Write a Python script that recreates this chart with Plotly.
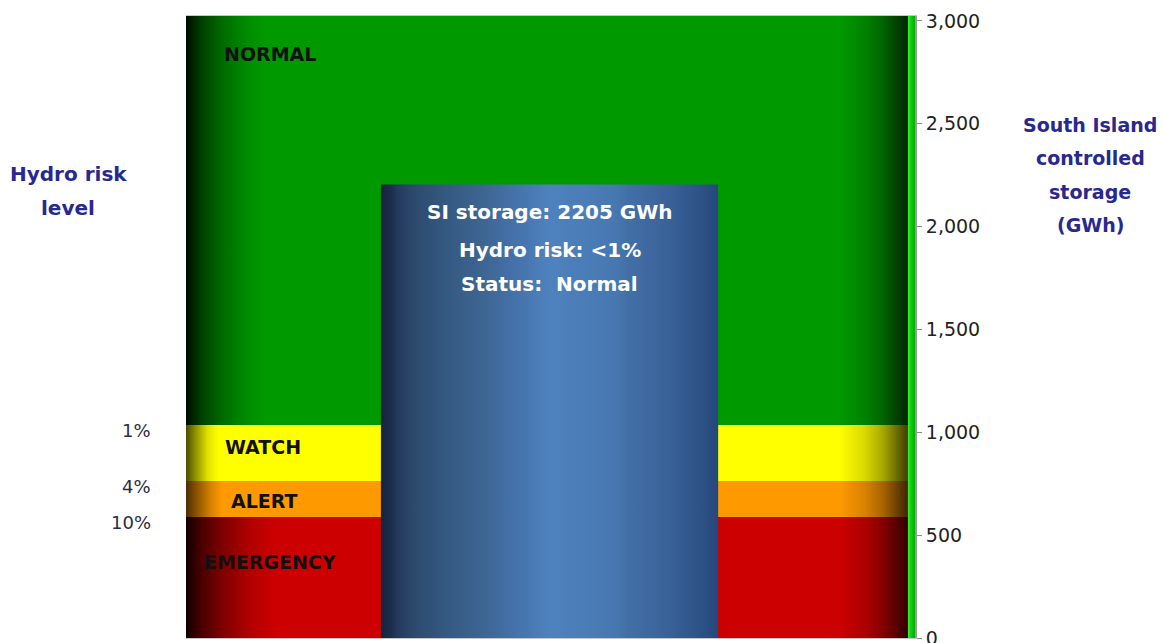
import plotly.graph_objects as go

# ---- data -------------------------------------------------------------
level_names = ["EMERGENCY", "ALERT", "WATCH", "NORMAL"]
level_floor_gwh = [0, 588, 763, 1035]          # lower bound of each risk band
risk_labels = ["10%", "4%", "1%"]               # risk at the ALERT/WATCH/NORMAL floors
risk_label_gwh = [588, 763, 1035]
si_storage = 2205                               # current South Island storage (GWh)
hydro_risk = "<1%"
status = "Normal"
storage_ticks = [0, 500, 1000, 1500, 2000, 2500, 3000]
left_title = ["Hydro risk", "level"]
right_title = ["South Island", "controlled", "storage", "(GWh)"]

# ---- styling ----------------------------------------------------------
W, H = 1163, 643
ML, MR, MT, MB = 186, 247, 16, 5
PW, PH = W - ML - MR, H - MT - MB
Y_MAX = 3024
BAND_X = (0.0, 0.989)
STRIPE_X = (0.989, 0.9995)
BAR_X = (0.267, 0.729)
FONT = "DejaVu Sans"
NAVY = "#28288f"

band_base = {
    "EMERGENCY": (204, 0, 0),
    "ALERT": (255, 153, 0),
    "WATCH": (255, 255, 0),
    "NORMAL": (0, 153, 0),
}
# brightness profile across each band (left and right edges shaded)
band_profile = {
    "EMERGENCY": [(0, 0.08), (0.02, 0.35), (0.05, 0.62), (0.09, 0.88), (0.125, 1)],
    "ALERT": [(0, 0.3), (0.015, 0.55), (0.035, 0.85), (0.05, 1)],
    "WATCH": [(0, 0.3), (0.015, 0.6), (0.03, 0.88), (0.045, 1)],
    "NORMAL": [(0, 0.08), (0.02, 0.4), (0.05, 0.7), (0.085, 0.92), (0.11, 1)],
}
right_profile = [(0.905, 1), (0.94, 0.85), (0.965, 0.66), (0.985, 0.42), (1.0, 0.25)]


def shade(rgb, k):
    return "rgb(%d,%d,%d)" % tuple(int(round(c * k)) for c in rgb)


def band_scale(name):
    rgb = band_base[name]
    return [[p, shade(rgb, k)] for p, k in band_profile[name] + right_profile]


bar_scale = [
    [0.0, "#15233c"], [0.03, "#1c2d4c"], [0.05, "#243a5c"], [0.1, "#2d4a6e"],
    [0.2, "#355a82"], [0.3, "#3d6592"], [0.4, "#4572aa"], [0.5, "#4e82be"],
    [0.56, "#4c7fba"], [0.7, "#4777b0"], [0.73, "#4270a6"], [0.85, "#3a6299"],
    [0.93, "#2f5589"], [1.0, "#25487c"],
]

fig = go.Figure()


def rect_trace(x0, x1, y0, y1, scale):
    return go.Scatter(
        x=[x0, x1, x1, x0, x0], y=[y0, y0, y1, y1, y0],
        mode="lines", line=dict(width=0), fill="toself",
        fillgradient=dict(type="horizontal", colorscale=scale, start=x0, stop=x1),
        hoverinfo="skip", showlegend=False,
    )


# risk bands
tops = level_floor_gwh[1:] + [Y_MAX]
for name, lo, hi in zip(level_names, level_floor_gwh, tops):
    fig.add_trace(rect_trace(BAND_X[0], BAND_X[1], lo, hi, band_scale(name)))

# bright green strip along the storage axis
fig.add_trace(rect_trace(STRIPE_X[0], STRIPE_X[1], 0, Y_MAX,
                         [[0, "#3cf03c"], [0.35, "#10d010"], [1, "#00a800"]]))

# current storage bar
fig.add_trace(rect_trace(BAR_X[0], BAR_X[1], 0, si_storage, bar_scale))

annotations = []

# band names
band_label_pos = {"NORMAL": (0.115, 2839), "WATCH": (0.106, 929),
                  "ALERT": (0.108, 666), "EMERGENCY": (0.115, 369)}
for name in level_names:
    x, y = band_label_pos[name]
    annotations.append(dict(
        x=x, y=y, xref="x", yref="y", text="<b>%s</b>" % name, showarrow=False,
        font=dict(family=FONT, size=19, color="#111111"),
        xanchor="center", yanchor="middle"))

# risk percentages beside thresholds
for txt, y in zip(risk_labels, risk_label_gwh):
    annotations.append(dict(
        x=-0.045, y=y, xref="paper", yref="y", text=txt, showarrow=False,
        font=dict(family=FONT, size=18, color="#2c2c40"),
        xanchor="right", yanchor="middle", yshift=-5))

# text inside the storage bar
bar_cx = (BAR_X[0] + BAR_X[1]) / 2
bar_lines = ["SI storage: %d GWh" % si_storage,
             "Hydro risk: %s" % hydro_risk,
             "Status:  %s" % status]
for txt, dy in zip(bar_lines, [-28, -66, -100]):
    annotations.append(dict(
        x=bar_cx, y=si_storage, xref="x", yref="y", text="<b>%s</b>" % txt,
        showarrow=False, font=dict(family=FONT, size=20, color="white"),
        xanchor="center", yanchor="middle", yshift=dy))


def px_to_paper(px, py):
    return (px - ML) / PW, (H - MB - py) / PH


# side titles, one line at a time
for i, line in enumerate(left_title):
    x, y = px_to_paper(68, 174 + 34 * i)
    annotations.append(dict(
        x=x, y=y, xref="paper", yref="paper", text="<b>%s</b>" % line,
        showarrow=False, font=dict(family=FONT, size=20, color=NAVY),
        xanchor="center", yanchor="middle"))
for i, line in enumerate(right_title):
    x, y = px_to_paper(1090, 125 + 33.3 * i)
    annotations.append(dict(
        x=x, y=y, xref="paper", yref="paper", text="<b>%s</b>" % line,
        showarrow=False, font=dict(family=FONT, size=19, color=NAVY),
        xanchor="center", yanchor="middle"))

fig.update_layout(
    width=W, height=H,
    margin=dict(l=ML, r=MR, t=MT, b=MB, pad=0, autoexpand=False),
    paper_bgcolor="white", plot_bgcolor="white",
    showlegend=False,
    annotations=annotations,
    xaxis=dict(range=[0, 1], showgrid=False, zeroline=False, showticklabels=False,
               ticks="", showline=True, mirror=True, linecolor="#c8c8c8", linewidth=1,
               automargin=False, fixedrange=True),
    yaxis=dict(range=[0, Y_MAX], side="right", tickvals=storage_ticks,
               tickformat=",d", ticks="outside", ticklen=5, tickcolor="#8a8a8a",
               ticklabeloverflow="allow", automargin=False,
               showline=True, linecolor="#9a9a9a", linewidth=1,
               showgrid=False, zeroline=False,
               tickfont=dict(family=FONT, size=19, color="#222222"),
               fixedrange=True),
)

fig.write_html("out.html")
